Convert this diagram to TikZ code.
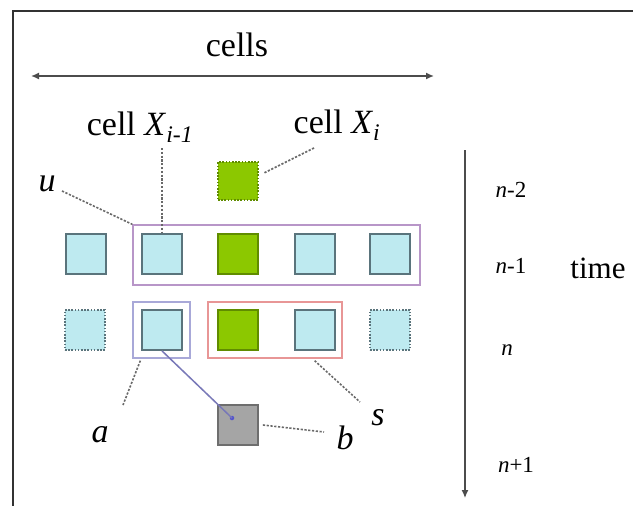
\documentclass[tikz,border=0pt]{standalone}
\usepackage{fontspec}
\setmainfont{Liberation Serif}
\usetikzlibrary{arrows.meta,calc}
\definecolor{cellfill}{RGB}{190,234,240}
\definecolor{cellline}{RGB}{90,116,124}
\definecolor{actfill}{RGB}{140,200,0}
\definecolor{actline}{RGB}{96,140,0}
\definecolor{outfill}{RGB}{165,165,165}
\definecolor{outline}{RGB}{110,110,110}
\definecolor{ucol}{RGB}{184,150,200}
\definecolor{acol}{RGB}{168,168,216}
\definecolor{scol}{RGB}{232,150,150}
\definecolor{leadcol}{RGB}{105,105,105}
\definecolor{linkcol}{RGB}{120,120,184}
\definecolor{framecol}{RGB}{50,50,50}
\begin{document}
\begin{tikzpicture}[x=1pt,y=-1pt,
  cellbox/.style={draw=cellline,fill=cellfill,line width=1.8pt,
    minimum width=40pt,minimum height=40pt,inner sep=0pt},
  ghostbox/.style={cellbox,dash pattern=on 1.6pt off 1.6pt},
  activebox/.style={cellbox,draw=actline,fill=actfill},
  ghostactive/.style={activebox,dash pattern=on 1.6pt off 1.6pt,minimum height=38pt},
  outbox/.style={cellbox,draw=outline,fill=outfill},
  groupbox/.style={draw=#1,line width=1.3pt,inner sep=0pt},
  leader/.style={draw=leadcol,line width=1.6pt,dash pattern=on 2.2pt off 1.6pt},
  linkline/.style={draw=linkcol,line width=1.5pt},
  axisline/.style={draw=black!70,line width=1.5pt,{Latex[length=8pt,width=7pt]}-{Latex[length=8pt,width=7pt]}},
  timeline/.style={draw=black!70,line width=1.3pt,-{Latex[length=8pt,width=7pt]}},
  bigtxt/.style={font=\fontsize{34}{36}\selectfont,inner sep=0pt},
  lbltxt/.style={font=\fontsize{34}{36}\selectfont\itshape,inner sep=0pt},
  steptxt/.style={font=\fontsize{23}{25}\selectfont,inner sep=0pt}]
\useasboundingbox (0,0) rectangle (633,506);
\fill[white] (0,0) rectangle (633,506);

% frame edges
\draw[framecol,line width=2.8pt] (13,506) -- (13,11) -- (633,11);

% spatial axis
\node[bigtxt] (cellslbl) at (237,45) {cells};
\coordinate (cl) at (31,76);
\coordinate (cr) at (434,76);
\draw[axisline] (cl) -- (cr);

% time axis
\coordinate (ttop) at (465,150);
\coordinate (tbot) at (465,498);
\draw[timeline] (ttop) -- (tbot);
\node[steptxt] (tn2) at (511,190) {\textit{n}-2};
\node[steptxt] (tn1) at (511,266) {\textit{n}-1};
\node[steptxt] (tn0) at (507,350) {\textit{n}};
\node[steptxt] (tn3) at (516,465) {\textit{n}+1};
\node[font=\fontsize{31}{33}\selectfont,inner sep=0pt] (timelbl) at (598,268) {time};

% group outlines
\node[groupbox=ucol,minimum width=287pt,minimum height=60pt] (U) at (276.5,255) {};
\node[groupbox=acol,minimum width=57pt,minimum height=56pt] (A) at (161.5,330) {};
\node[groupbox=scol,minimum width=134pt,minimum height=56pt] (S) at (275,330) {};

% row n-2
\node[ghostactive] (g0) at (238,181) {};
% row n-1
\node[cellbox] (p1) at (86,254) {};
\node[cellbox] (p2) at (162,254) {};
\node[activebox] (p3) at (238,254) {};
\node[cellbox] (p4) at (315,254) {};
\node[cellbox] (p5) at (390,254) {};
% row n
\node[ghostbox] (q1) at (85,330) {};
\node[cellbox] (q2) at (162,330) {};
\node[activebox] (q3) at (238,330) {};
\node[cellbox] (q4) at (315,330) {};
\node[ghostbox] (q5) at (390,330) {};
% row n+1
\node[outbox] (r3) at (238,425) {};

% link from the a-cell to the new cell
\node[circle,fill=linkcol!70!blue,inner sep=0pt,minimum size=4.5pt] (bdot) at (232,418) {};
\draw[linkline] (q2.south) -- (bdot.center);

% labels and leaders
\node[bigtxt] (lxm) at (140,127) {cell \textit{X}\textsubscript{\textit{i-1}}};
\node[bigtxt] (lxi) at (337,125) {cell \textit{X}\textsubscript{\textit{i}}};
\node[lbltxt] (lu) at (47,184) {u};
\node[lbltxt] (la) at (100,435) {a};
\node[lbltxt] (ls) at (378,418) {s};
\node[lbltxt] (lb) at (345,438) {b};

\coordinate (xmtop) at (p2.north |- 0,148);
\draw[leader] (xmtop) -- (p2.north);
\coordinate (xitop) at (314,148);
\coordinate (g0hit) at ($(g0.north east)!0.3!(g0.south east)+(5,0)$);
\draw[leader] (xitop) -- (g0hit);
\coordinate (utop) at (62,191);
\draw[leader] (utop) -- (U.north west);
\coordinate (ahit) at ($(A.south west)+(8,2)$);
\coordinate (aend) at (123,405);
\draw[leader] (ahit) -- (aend);
\coordinate (shit) at ($(S.south east)+(-28,2)$);
\coordinate (send) at (360,402);
\draw[leader] (shit) -- (send);
\coordinate (bhit) at ($(r3.east)+(4,0)$);
\coordinate (bend) at (324,432);
\draw[leader] (bhit) -- (bend);
\end{tikzpicture}
\end{document}
